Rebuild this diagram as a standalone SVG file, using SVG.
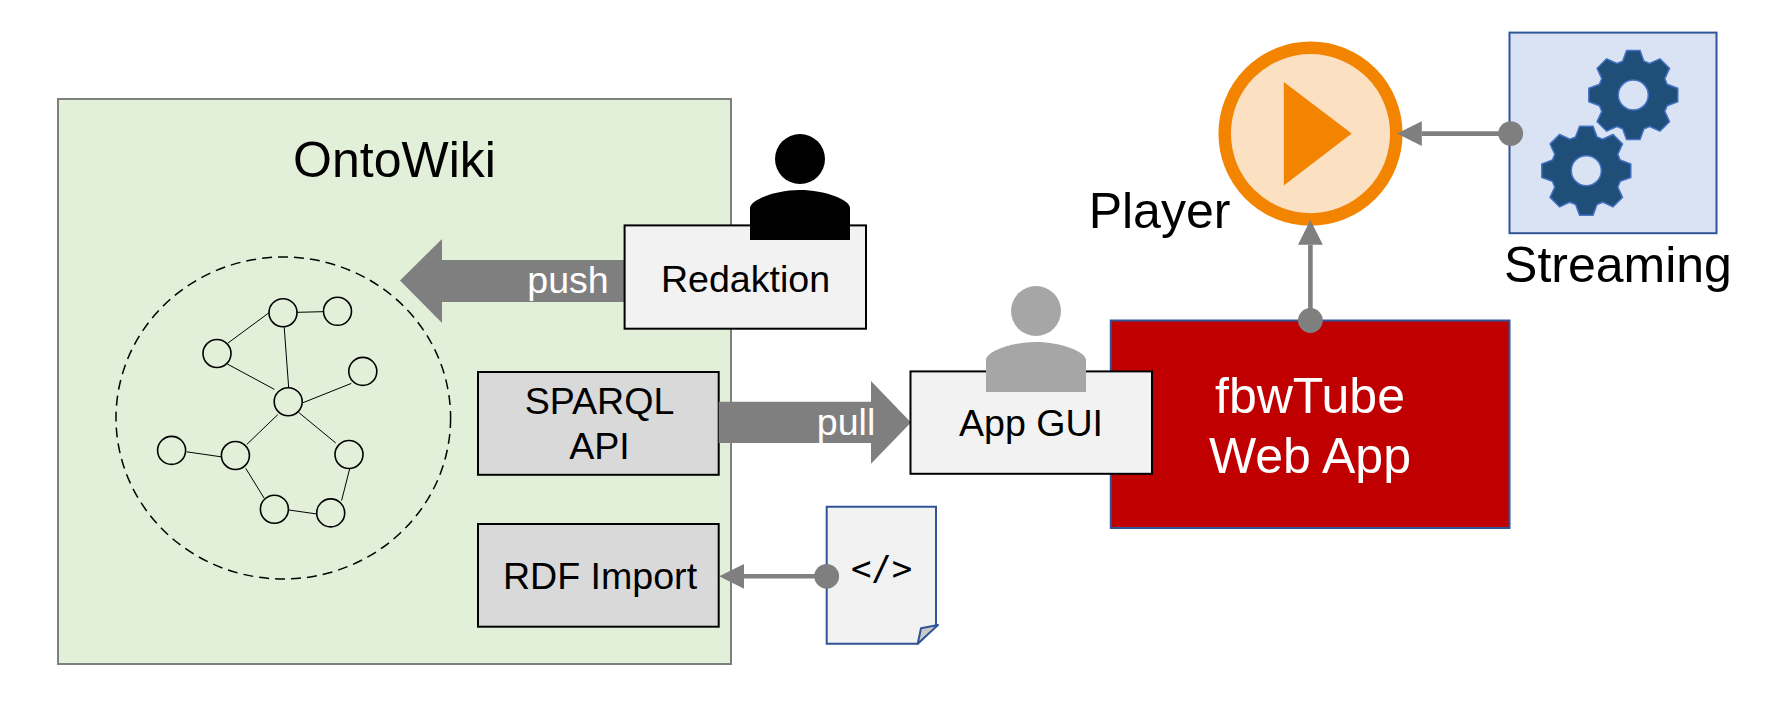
<svg xmlns="http://www.w3.org/2000/svg" xmlns:xlink="http://www.w3.org/1999/xlink" width="1767" height="720" viewBox="0 0 1767 720">
<style>
text{font-family:"Liberation Sans",Arial,sans-serif;text-anchor:middle;fill:#000}
.t37{font-size:37.6px}
.t48{font-size:50px}
.w{fill:#fff}
.box{stroke:#000;stroke-width:2}
.light{fill:#f2f2f2}
.grey{fill:#d9d9d9}
.blue{stroke:#2f5597;stroke-width:2}
.fat{fill:#7f7f7f}
.thin{stroke:#7f7f7f;stroke-width:4.6;fill:none;marker-start:url(#dot);marker-end:url(#head)}
.e{stroke:#000;stroke-width:1;fill:none}
.gear{fill:#1f4e79;stroke:#4472c4;stroke-width:1.5;fill-rule:evenodd}
</style>
<defs>
<marker id="head" markerUnits="userSpaceOnUse" markerWidth="30" markerHeight="30" viewBox="0 -15 30 30" refX="0" refY="0" orient="auto"><path d="M0,-12.4L24.8,0L0,12.4z" fill="#7f7f7f"/></marker>
<marker id="dot" markerUnits="userSpaceOnUse" markerWidth="26" markerHeight="26" viewBox="-13 -13 26 26" refX="0" refY="0" orient="auto"><circle r="12.4" fill="#7f7f7f"/></marker>
<path id="g" class="gear" d="M-10.68,-33.86L-6.73,-44.49L6.73,-44.49L10.68,-33.86L16.39,-31.49L26.7,-36.22L36.22,-26.7L31.49,-16.39L33.86,-10.68L44.49,-6.73L44.49,6.73L33.86,10.68L31.49,16.39L36.22,26.7L26.7,36.22L16.39,31.49L10.68,33.86L6.73,44.49L-6.73,44.49L-10.68,33.86L-16.39,31.49L-26.7,36.22L-36.22,26.7L-31.49,16.39L-33.86,10.68L-44.49,6.73L-44.49,-6.73L-33.86,-10.68L-31.49,-16.39L-36.22,-26.7L-26.7,-36.22L-16.39,-31.49zM15,0A15,15 0 1 0 -15,0A15,15 0 1 0 15,0z"/>
<path id="person" d="M750,240V208C750,200 775,190 800,190C825,190 850,200 850,208V240z"/>
</defs>

<g id="ontowiki">
<rect x="58" y="99" width="673" height="565" fill="#e2efd9" stroke="#7f7f7f" stroke-width="2"/>
<text x="394.5" y="176.5" class="t48">OntoWiki</text>
</g>

<g id="graph">
<ellipse cx="283.3" cy="418" rx="167.3" ry="161" fill="none" stroke="#000" stroke-width="1.5" stroke-dasharray="10 6"/>
<g class="e">
<line x1="283" y1="312.7" x2="337.5" y2="311.3"/>
<line x1="228" y1="343" x2="270" y2="312"/>
<line x1="284.2" y1="327" x2="288.7" y2="388"/>
<line x1="227.3" y1="364" x2="274.4" y2="389.4"/>
<line x1="351.3" y1="383.4" x2="303" y2="402.7"/>
<line x1="277.8" y1="414.6" x2="246.8" y2="444.4"/>
<line x1="298.5" y1="412.3" x2="335.8" y2="443"/>
<line x1="186.6" y1="451.8" x2="221" y2="456.8"/>
<line x1="245.7" y1="468.3" x2="264" y2="498"/>
<line x1="289" y1="510" x2="317" y2="514"/>
<line x1="341.6" y1="500.5" x2="349.6" y2="469"/>
</g>
<g fill="#e2efd9" stroke="#000" stroke-width="1.6">
<ellipse cx="283" cy="312.7" rx="14" ry="14"/>
<ellipse cx="337.5" cy="311.3" rx="14" ry="14"/>
<ellipse cx="217" cy="353.5" rx="14" ry="14"/>
<ellipse cx="362.8" cy="371.4" rx="14" ry="14"/>
<ellipse cx="288.2" cy="401.7" rx="14" ry="14"/>
<ellipse cx="171.6" cy="450.4" rx="14" ry="14"/>
<ellipse cx="235.4" cy="455.5" rx="14" ry="14"/>
<ellipse cx="349" cy="454.5" rx="14" ry="14"/>
<ellipse cx="274.4" cy="509.2" rx="14" ry="14"/>
<ellipse cx="330.7" cy="512.9" rx="14" ry="14"/>
</g>
</g>

<g id="sparql">
<rect x="478" y="372" width="240.7" height="102.8" class="box grey"/>
<text x="599.5" y="413.5" class="t37">SPARQL</text>
<text x="599.5" y="458.5" class="t37">API</text>
</g>
<g id="rdf-import">
<rect x="478" y="524" width="240.7" height="102.7" class="box grey"/>
<text x="600" y="589" class="t37">RDF Import</text>
</g>

<g id="fbwtube">
<rect x="1110.8" y="320.5" width="398.7" height="207.5" fill="#c00000" class="blue"/>
<text x="1310" y="413" class="t48 w">fbwTube</text>
<text x="1310" y="473" class="t48 w">Web App</text>
</g>

<g id="connectors">
<path class="fat" d="M624.6,260H442V239L400,280.5L442,323V302H624.6z"/>
<text x="568" y="293" class="t37 w">push</text>
<path class="fat" d="M718.7,401.7H871V381L911,422.4L871,463.7V443H718.7z"/>
<text x="846" y="435" class="t37 w">pull</text>
</g>

<g id="redaktion">
<rect x="624.6" y="225.4" width="241.4" height="103.3" class="box light"/>
<text x="745.5" y="291.5" class="t37">Redaktion</text>
<ellipse cx="800" cy="159" rx="25" ry="25"/>
<use xlink:href="#person" href="#person"/>
</g>

<g id="app-gui">
<rect x="910.5" y="371.4" width="241.5" height="102.4" class="box light"/>
<text x="1031" y="435.5" class="t37">App GUI</text>
<g fill="#a6a6a6">
<ellipse cx="1036" cy="311" rx="25" ry="25"/>
<use xlink:href="#person" href="#person" transform="translate(236,152)"/>
</g>
</g>

<g id="player">
<circle cx="1310.5" cy="133.6" r="85.8" fill="#fbe0c2" stroke="#f38400" stroke-width="12.5"/>
<path d="M1283.8,82L1351.7,133.6L1283.8,185.5z" fill="#f38400"/>
<text x="1159.5" y="228" class="t48">Player</text>
</g>

<g id="streaming">
<rect x="1509.5" y="32.6" width="207" height="200.6" fill="#dae3f3" class="blue"/>
<use xlink:href="#g" href="#g" x="1633.3" y="95"/>
<use xlink:href="#g" href="#g" x="1586.3" y="170.7"/>
<text x="1618" y="282" class="t48">Streaming</text>
</g>

<g id="rdf-file">
<path d="M826.7,506.7H936V625L917.7,643.7H826.7z" fill="#f2f2f2" class="blue"/>
<path d="M917.7,643.7L921,628.3L938,625z" fill="#c9c9c9" class="blue" stroke-linejoin="round"/>
<text x="881.6" y="579.5" style="font-family:'DejaVu Sans Mono',monospace;font-size:34px">&lt;/&gt;</text>
</g>

<g id="thin-connectors">
<line class="thin" x1="826.7" y1="576.3" x2="744" y2="576.3"/>
<line class="thin" x1="1510.7" y1="133.6" x2="1421.8" y2="133.6"/>
<line class="thin" x1="1310.4" y1="320.5" x2="1310.4" y2="244.7"/>
</g>
</svg>
